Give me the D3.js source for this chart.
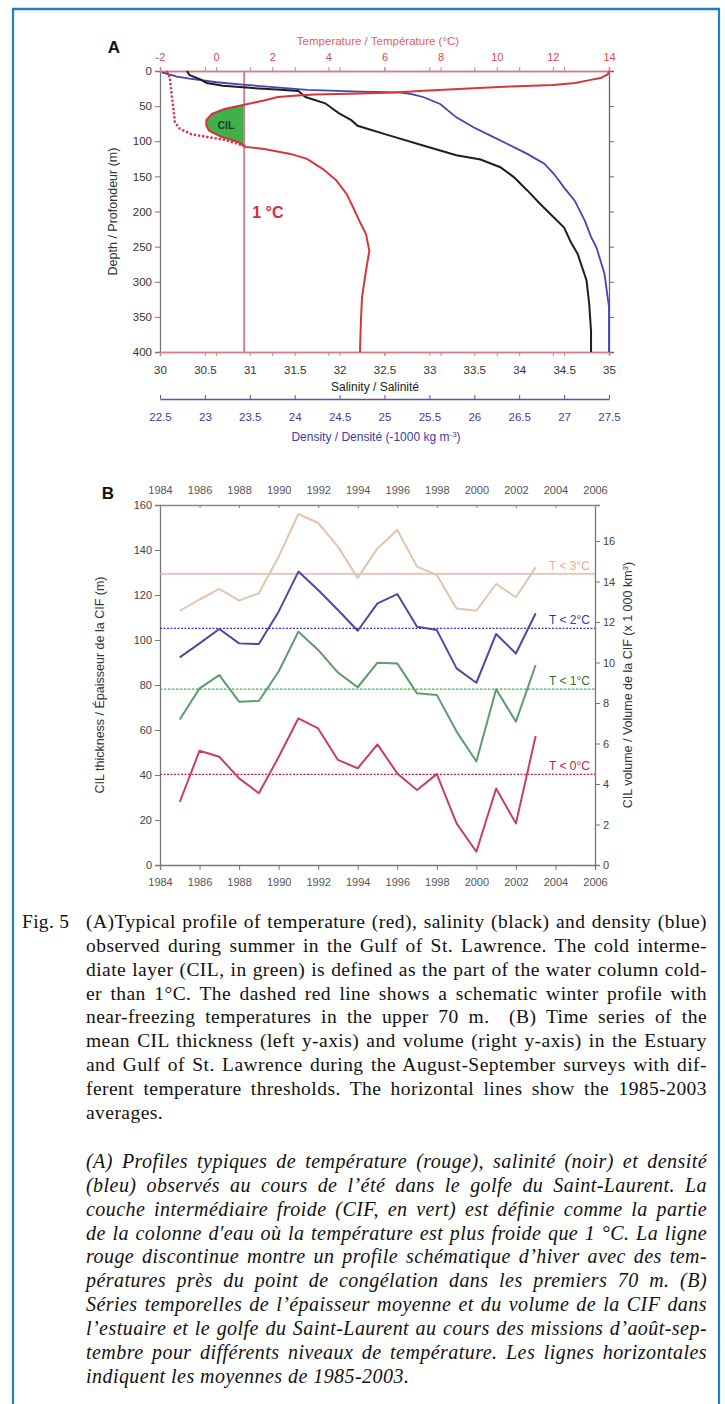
<!DOCTYPE html>
<html><head><meta charset="utf-8">
<script src="https://cdn.jsdelivr.net/npm/d3@7/dist/d3.min.js"></script>
<style>
html,body{margin:0;padding:0;background:#fff;}
svg{display:block;}
</style></head><body>
<svg id="fig" width="725" height="1404"></svg>
<script>
// ---------------- DATA ----------------
// Panel A ticks
const tempTicks = [-2, 0, 2, 4, 6, 8, 10, 12, 14];
const salTicks = [30, 30.5, 31, 31.5, 32, 32.5, 33, 33.5, 34, 34.5, 35];
const densTicks = [22.5, 23, 23.5, 24, 24.5, 25, 25.5, 26, 26.5, 27, 27.5];
const depthTicks = [0, 50, 100, 150, 200, 250, 300, 350, 400];
// Panel A profiles: [value, depth (m)]
const summerTemp = [[14,0],[13.95,5],[13.7,10],[13.3,13],[12.8,17],[12.0,20],[10.5,22],[9.0,25],[7.4,28],[6.4,30.5],[5.1,32],[3.5,33.5],[2.9,35],[2.2,37],[1.7,42],[1.0,48],[0.3,54],[-0.15,61],[-0.35,70],[-0.35,78],[-0.25,85],[0.2,94],[0.8,101],[1.05,108],[1.71,111],[2.65,118],[3.24,125],[3.82,140],[4.29,156],[4.65,175],[4.88,194],[5.1,213],[5.34,232],[5.46,256],[5.34,284],[5.2,322],[5.16,355],[5.13,393],[5.13,400]];
const winterTemp = [[-1.76,0],[-1.65,9],[-1.6,28],[-1.53,51],[-1.47,73],[-1.3,82],[-0.88,90],[-0.3,94],[0.3,98],[0.8,104],[1.05,108]];
const salinity = [[30.30,0],[30.33,6],[30.45,12],[30.52,17],[30.7,21],[31.0,24],[31.3,26.5],[31.54,28.5],[31.62,37],[31.84,46],[31.99,60],[32.13,70],[32.2,78],[32.56,92],[32.93,106],[33.3,120],[33.57,126],[33.79,137],[33.94,151],[34.09,170],[34.24,190],[34.35,204],[34.5,223],[34.58,245],[34.65,260],[34.75,298],[34.78,332],[34.8,370],[34.8,400]];
const density = [[22.52,2],[22.69,8],[22.83,11],[23.13,16],[23.39,19],[23.76,23],[24.14,27],[24.73,29.5],[25.17,30.5],[25.3,33],[25.43,37],[25.62,47],[25.8,66],[25.99,80],[26.18,92],[26.37,104],[26.59,118],[26.78,132],[26.89,147],[27.0,166],[27.12,185],[27.23,213],[27.3,236],[27.36,251],[27.45,289],[27.5,336],[27.5,400]];

// Panel B
const years = [1985,1986,1987,1988,1989,1990,1991,1992,1993,1994,1995,1996,1997,1998,1999,2000,2001,2002,2003];
const cilT3 = [113,118,122.7,117.5,120.8,137,156,152,141.5,127.6,140.7,148.9,132.6,128.9,114,113,124.9,119,132.3];
const cilT2 = [92.3,98.5,104.9,98.5,98.2,112.6,130.4,122.2,113.3,104.1,116.3,120.4,105.9,104.4,87.4,81,102.7,94,111.9];
const cilT1 = [64.7,78.5,84.4,72.6,72.9,86,103.7,95.6,85.5,79,89.9,89.6,76.3,75.6,59.3,46,78.1,63.7,88.9];
const cilT0 = [28,50.8,48.1,38.5,31.9,48,65.2,60.7,46.7,43,53.6,40.7,33.3,40.4,18.5,5.9,34,18.5,57.3];
const cilAverages = [129.4,105.2,78.2,40.3];
const thresholdLabels = ["T < 3°C","T < 2°C","T < 1°C","T < 0°C"];
const yearTicks = [1984,1986,1988,1990,1992,1994,1996,1998,2000,2002,2004,2006];
const thickTicks = [0,20,40,60,80,100,120,140,160];
const volTicks = [0,2,4,6,8,10,12,14,16];

// Caption
const capEN = [
 "(A)Typical profile of temperature (red), salinity (black) and density (blue)",
 "observed during summer in the Gulf of St. Lawrence. The cold interme-",
 "diate layer (CIL, in green) is defined as the part of the water column cold-",
 "er than 1°C. The dashed red line shows a schematic winter profile with",
 "near-freezing temperatures in the upper 70 m.  (B) Time series of the",
 "mean CIL thickness (left y-axis) and volume (right y-axis) in the Estuary",
 "and Gulf of St. Lawrence during the August-September surveys with dif-",
 "ferent temperature thresholds. The horizontal lines show the 1985-2003",
 "averages."
];
const capFR = [
 "(A) Profiles typiques de température (rouge), salinité (noir) et densité",
 "(bleu) observés au cours de l’été dans le golfe du Saint-Laurent. La",
 "couche intermédiaire froide (CIF, en vert) est définie comme la partie",
 "de la colonne d'eau où la température est plus froide que 1 °C. La ligne",
 "rouge discontinue montre un profile schématique d’hiver avec des tem-",
 "pératures près du point de congélation dans les premiers 70 m. (B)",
 "Séries temporelles de l’épaisseur moyenne et du volume de la CIF dans",
 "l’estuaire et le golfe du Saint-Laurent au cours des missions d’août-sep-",
 "tembre pour différents niveaux de température. Les lignes horizontales",
 "indiquent les moyennes de 1985-2003."
];

// ---------------- DRAW ----------------
const svg = d3.select("#fig");
const SANS = "'Liberation Sans', Arial, sans-serif";
const SERIF = "'Liberation Serif', 'Times New Roman', serif";
const plain = d => String(d);
svg.append("rect").attr("width",725).attr("height",1404).attr("fill","#fff");

// frame
const frameCol = "#1f7fc4";
svg.append("line").attr("x1",12).attr("x2",720).attr("y1",9).attr("y2",9).attr("stroke",frameCol).attr("stroke-width",2.5);
svg.append("line").attr("x1",13).attr("x2",13).attr("y1",8).attr("y2",1404).attr("stroke",frameCol).attr("stroke-width",2.2);
svg.append("line").attr("x1",719).attr("x2",719).attr("y1",8).attr("y2",1404).attr("stroke",frameCol).attr("stroke-width",2.2);

function styleAxis(g, col, fcol, fs){
  g.selectAll("path.domain").attr("stroke",col).attr("stroke-width",1.3);
  g.selectAll(".tick line").attr("stroke",col).attr("stroke-width",1);
  g.selectAll(".tick text").attr("fill",fcol).attr("font-family",SANS).attr("font-size",fs);
}

// ===== Panel A =====
const AL=160, AR=609, AT=71, AB=352;
const xT = d3.scaleLinear().domain([-2,14]).range([AL,AR]);
const xS = d3.scaleLinear().domain([30,35]).range([AL,AR]);
const xD = d3.scaleLinear().domain([22.5,27.5]).range([AL,AR]);
const yA = d3.scaleLinear().domain([0,400]).range([AT,AB]);
const gA = svg.append("g");

// CIL fill
const cilPts = summerTemp.filter(d => d[1]>=48 && d[1]<=108);
gA.append("path").datum(cilPts)
  .attr("d", d3.area().curve(d3.curveBasis).y(d=>yA(d[1])).x0(xT(1)).x1(d=>xT(Math.min(d[0],1))))
  .attr("fill","#3fb04a").attr("stroke","#2a6a2a").attr("stroke-width",1);
gA.append("text").attr("x",xT(0.35)).attr("y",yA(77)+4).attr("text-anchor","middle")
  .attr("font-family",SANS).attr("font-size",10.5).attr("font-weight","bold").attr("fill","#1c3f1c").text("CIL");

// 1°C line
gA.append("line").attr("x1",xT(1)).attr("x2",xT(1)).attr("y1",AT).attr("y2",AB)
  .attr("stroke","#c98590").attr("stroke-width",2);
gA.append("text").attr("x",xT(1)+8).attr("y",yA(200)+6).attr("font-family",SANS)
  .attr("font-size",16).attr("font-weight","bold").attr("fill","#d22f3c").text("1 °C");

// axes
const aLeft = gA.append("g").attr("transform",`translate(${AL},0)`)
  .call(d3.axisLeft(yA).tickValues(depthTicks).tickSize(5).tickPadding(3).tickFormat(plain));
styleAxis(aLeft,"#777","#333",11.5);
const aRight = gA.append("g").attr("transform",`translate(${AR},0)`)
  .call(d3.axisRight(yA).tickValues(depthTicks).tickSize(5).tickFormat(""));
styleAxis(aRight,"#666","#333",11);
const aTopS = gA.append("g").attr("transform",`translate(0,${AT})`)
  .call(d3.axisTop(xS).tickValues(salTicks).tickSize(4).tickFormat(""));
styleAxis(aTopS,"#d38088","#d44",10.5);
const aTop = gA.append("g").attr("transform",`translate(0,${AT})`)
  .call(d3.axisTop(xT).tickValues(tempTicks).tickSize(4).tickPadding(6).tickFormat(plain));
styleAxis(aTop,"#d38088","#d9484a",11);
const aBotT = gA.append("g").attr("transform",`translate(0,${AB})`)
  .call(d3.axisBottom(xT).tickValues(tempTicks).tickSize(4).tickFormat(""));
styleAxis(aBotT,"#d38088","#333",11);
const aBot = gA.append("g").attr("transform",`translate(0,${AB})`)
  .call(d3.axisBottom(xS).tickValues(salTicks).tickSize(4).tickPadding(10).tickFormat(plain));
styleAxis(aBot,"#d38088","#333",11.5);
const aDen = gA.append("g").attr("transform",`translate(0,399)`)
  .call(d3.axisBottom(xD).tickValues(densTicks).tickSizeInner(-4).tickSizeOuter(0).tickPadding(14).tickFormat(plain));
styleAxis(aDen,"#5656a8","#3c3ca6",11.5);

// profiles
const lineA = d3.line().x(d=>d.x).y(d=>d.y);
gA.append("path").datum(density.map(d=>({x:xD(d[0]),y:yA(d[1])})))
  .attr("d",lineA).attr("fill","none").attr("stroke","#4545b0").attr("stroke-width",1.8);
gA.append("path").datum(salinity.map(d=>({x:xS(d[0]),y:yA(d[1])})))
  .attr("d",lineA).attr("fill","none").attr("stroke","#1e1e1e").attr("stroke-width",2);
gA.append("path").datum(winterTemp.map(d=>({x:xT(d[0]),y:yA(d[1])})))
  .attr("d",lineA).attr("fill","none").attr("stroke","#d23c4a").attr("stroke-width",2.4).attr("stroke-dasharray","2.4,1.8");
gA.append("path").datum(summerTemp.map(d=>({x:xT(d[0]),y:yA(d[1])})))
  .attr("d",lineA).attr("fill","none").attr("stroke","#d6363e").attr("stroke-width",2);

// titles
gA.append("text").attr("x",114).attr("y",53).attr("text-anchor","middle").attr("font-family",SANS)
  .attr("font-size",17).attr("font-weight","bold").attr("fill","#111").text("A");
gA.append("text").attr("x",378).attr("y",45).attr("text-anchor","middle").attr("font-family",SANS)
  .attr("font-size",11.5).attr("fill","#e0605c").text("Temperature / Température (°C)");
gA.append("text").attr("x",375).attr("y",391).attr("text-anchor","middle").attr("font-family",SANS)
  .attr("font-size",12).attr("fill","#222").text("Salinity / Salinité");
const dT = gA.append("text").attr("x",376).attr("y",441).attr("text-anchor","middle").attr("font-family",SANS)
  .attr("font-size",12).attr("fill","#3c3ca6");
dT.append("tspan").text("Density / Densité (-1000 kg m");
dT.append("tspan").attr("font-size",8).attr("dy",-4).text("-3");
dT.append("tspan").attr("dy",4).text(")");
gA.append("text").attr("transform",`translate(117,${(AT+AB)/2}) rotate(-90)`).attr("text-anchor","middle")
  .attr("font-family",SANS).attr("font-size",12.5).attr("fill","#333").text("Depth / Profondeur (m)");

// ===== Panel B =====
const BL=160, BR=595, BT=505, BB=865;
const xB = d3.scaleLinear().domain([1984,2006]).range([BL,BR]);
const yB = d3.scaleLinear().domain([0,160]).range([BB,BT]);
const yV = d3.scaleLinear().domain([0,160/9]).range([BB,BT]);
const gB = svg.append("g");

const bLeft = gB.append("g").attr("transform",`translate(${BL},0)`)
  .call(d3.axisLeft(yB).tickValues(thickTicks).tickSize(5).tickPadding(3).tickFormat(plain));
styleAxis(bLeft,"#777","#444",11);
const bRight = gB.append("g").attr("transform",`translate(${BR},0)`)
  .call(d3.axisRight(yV).tickValues(volTicks).tickSize(5).tickPadding(3).tickFormat(plain));
styleAxis(bRight,"#777","#444",11);
const bTop = gB.append("g").attr("transform",`translate(0,${BT})`)
  .call(d3.axisTop(xB).tickValues(yearTicks).tickSizeInner(-3).tickSizeOuter(0).tickPadding(11).tickFormat(plain));
styleAxis(bTop,"#888","#555",11);
const bBot = gB.append("g").attr("transform",`translate(0,${BB})`)
  .call(d3.axisBottom(xB).tickValues(yearTicks).tickSize(5).tickPadding(8).tickFormat(plain));
styleAxis(bBot,"#777","#555",11);

const seriesB = [cilT3, cilT2, cilT1, cilT0];
const lineCols = ["#e2c5ab","#4b4b9e","#5f9b6f","#c9405a"];
const avgCols = ["#e9a39a","#3131cf","#4cb04c","#cc2242"];
const avgDash = [null,"2,1.5","2.5,1.5","2,1.5"];
const labCols = ["#f2ac88","#3636a8","#2f6e40","#c4213f"];
const lineB = d3.line().x((d,i)=>xB(years[i])).y(d=>yB(d));
seriesB.forEach((s,k)=>{
  gB.append("line").attr("x1",BL).attr("x2",BR).attr("y1",yB(cilAverages[k])).attr("y2",yB(cilAverages[k]))
    .attr("stroke",avgCols[k]).attr("stroke-width",1.2).attr("stroke-dasharray",avgDash[k]);
});
seriesB.forEach((s,k)=>{
  gB.append("path").datum(s).attr("d",lineB).attr("fill","none")
    .attr("stroke",lineCols[k]).attr("stroke-width",2).attr("stroke-linejoin","round");
});
seriesB.forEach((s,k)=>{
  gB.append("text").attr("x",590).attr("y",yB(cilAverages[k])-4).attr("text-anchor","end")
    .attr("font-family",SANS).attr("font-size",12).attr("fill",labCols[k]).text(thresholdLabels[k]);
});

gB.append("text").attr("x",108).attr("y",499).attr("text-anchor","middle").attr("font-family",SANS)
  .attr("font-size",17).attr("font-weight","bold").attr("fill","#111").text("B");
gB.append("text").attr("transform",`translate(104,${(BT+BB)/2}) rotate(-90)`).attr("text-anchor","middle")
  .attr("font-family",SANS).attr("font-size",12.5).attr("fill","#333").text("CIL thickness / Épaisseur de la CIF (m)");
const vT = gB.append("text").attr("transform",`translate(632,${(BT+BB)/2}) rotate(-90)`).attr("text-anchor","middle")
  .attr("font-family",SANS).attr("font-size",12.5).attr("fill","#333");
vT.append("tspan").text("CIL volume / Volume de la CIF (x 1 000 km");
vT.append("tspan").attr("font-size",8).attr("dy",-4).text("3");
vT.append("tspan").attr("dy",4).text(")");

// ===== Caption =====
const gC = svg.append("g").attr("font-family",SERIF).attr("fill","#111");
gC.append("text").attr("x",22).attr("y",928).attr("font-size",19.5).attr("letter-spacing",0.3).text("Fig. 5");
const CX0 = 86, CX1 = 707;
function para(lines, y0, italic, fs, ls){
  lines.forEach((ln,i)=>{
    const t = gC.append("text").attr("x",CX0).attr("y",y0 + i*23.85)
      .attr("font-size",fs).attr("letter-spacing",ls)
      .attr("font-style", italic ? "italic" : "normal").attr("xml:space","preserve").text(ln);
    if (i < lines.length-1){
      const w = t.node().getComputedTextLength();
      const n = (ln.match(/ /g)||[]).length;
      const extra = (CX1-CX0-w);
      if (extra >= 0 && n>0) t.attr("word-spacing", extra/n);
      else t.attr("textLength", CX1-CX0).attr("lengthAdjust","spacingAndGlyphs");
    }
  });
}
para(capEN, 928, false, 19.5, 0.45);
para(capFR, 1168, true, 20, 0.45);
</script>
</body></html>
